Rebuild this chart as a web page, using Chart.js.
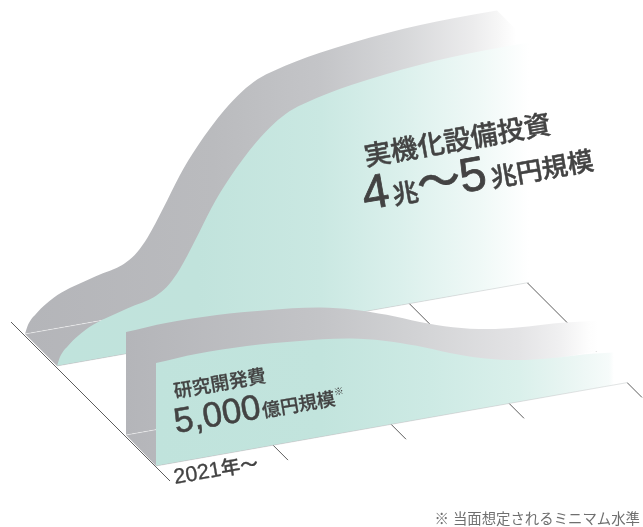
<!DOCTYPE html>
<html lang="ja">
<head>
<meta charset="UTF-8">
<title>実機化設備投資と研究開発費</title>
<script src="https://cdn.jsdelivr.net/npm/chart.js"></script>
<style>
    body { margin: 0; background: #fff; }
    canvas { display: block; }
</style>
</head>
<body>
<canvas id="investChart" width="643" height="527"></canvas>
<script>
// years after 2021 and relative height of each ribbon (not to scale)
const capexYears = [0, 0.025, 0.1, 0.24, 0.38, 0.53, 0.66, 0.78, 0.86, 0.95, 1.04, 1.17, 1.31, 1.46, 1.69, 1.84, 1.97, 2.12, 2.29, 2.5, 2.78, 3.07, 3.35, 3.63, 4];
const capexValues = [0, 8.5, 19, 31, 38, 43, 47, 50, 54, 62, 75, 101, 131, 157, 188.6, 204, 213.6, 219.5, 224.5, 229, 233.5, 237, 239, 240, 240];
const rdYears = [0, 0.35, 0.77, 1.19, 1.65, 1.93, 2.21, 2.49, 2.77, 3.06, 3.34, 3.62, 3.91, 4];
const rdValues = [103, 105, 104, 100, 93, 85, 74, 61, 50, 42, 38, 36, 32, 31];
const gridYears = [0, 1, 2, 3, 4];
const startLabel = ['2021', '年', '〜'];

const PX_PER_YEAR = 118;
const SHEAR = 0.177;  // the time axis climbs to the right
const INK = '#434343';
const LATIN_CJK = '"Liberation Sans", "Noto Sans CJK JP", sans-serif';

const GREY_BACK = [[0, '#b4b5b9'], [0.4, '#babbbe'], [0.63, '#c4c5c8'], [0.8, '#d6d7d9'], [0.95, '#ececed'], [1, '#f6f6f6']];
const GREEN_BACK = [[0, '#c0e3dc'], [0.3, '#c1e3dc'], [0.56, '#cae8e2'], [0.73, '#dbf0ec'], [0.9, '#f0f9f7'], [1, '#fff']];
const GREY_FRONT = [[0, '#b4b5b9'], [0.41, '#c3c4c7'], [0.62, '#d2d3d5'], [0.83, '#e3e3e5'], [0.92, '#f0f0f1'], [0.98, '#fdfdfd'], [1, '#fff']];
const GREEN_FRONT = [[0, '#c0e3dc'], [0.35, '#c2e4dd'], [0.58, '#cdeae4'], [0.77, '#daf0eb'], [0.856, '#e6f4f1'], [0.96, '#f6fbfa'], [0.97, '#fff'], [1, '#fff']];

function xPixel(chart, year) {
    return chart.scales.x.getPixelForValue(year);
}

function stripGradient(chart, stops) {
    const g = chart.ctx.createLinearGradient(0, 0, PX_PER_YEAR * 4, 0);
    stops.forEach(s => g.addColorStop(s[0], s[1]));
    return g;
}

function wallDataset(years, values, origin, stops, floorFrom) {
    return {
        data: years.map((year, i) => ({ x: year, y: values[i] })),
        origin: origin,
        floorFrom: floorFrom,
        stops: stops,
        fill: 'origin',
        clip: false,
        borderWidth: 0,
        pointRadius: 0,
        cubicInterpolationMode: 'monotone',
        backgroundColor: ctx => stripGradient(ctx.chart, stops)
    };
}

// floor strip between a grey wall's foot and the green wall in front of it
function drawFloor(chart, from, to, stops) {
    const ctx = chart.ctx;
    const len = xPixel(chart, 4);
    ctx.save();
    ctx.translate(from.x, 0);
    ctx.fillStyle = stripGradient(chart, stops);
    ctx.beginPath();
    ctx.moveTo(0, from.y);
    ctx.lineTo(len, from.y - SHEAR * len);
    ctx.lineTo(len + to.x - from.x, to.y - SHEAR * len);
    ctx.lineTo(to.x - from.x, to.y);
    ctx.closePath();
    ctx.fill();
    ctx.strokeStyle = 'rgba(255,255,255,0.45)';
    ctx.lineWidth = 0.8;
    ctx.beginPath();
    ctx.moveTo(0, from.y);
    ctx.lineTo(len, from.y - SHEAR * len);
    ctx.stroke();
    ctx.restore();
}

// the ribbon's far end: a small slanted cap from the grey top edge down to the green top edge
function drawCap(chart, from, to, stops, lastValue) {
    const ctx = chart.ctx;
    const len = xPixel(chart, 4);
    const rise = chart.scales.y.getPixelForValue(0) - chart.scales.y.getPixelForValue(lastValue);
    const x0 = from.x + len;
    const y0 = from.y - SHEAR * len - rise;
    const dx = to.x - from.x;
    const dy = to.y - from.y;
    const g = ctx.createLinearGradient(x0, 0, x0 + dx * 0.6, 0);
    g.addColorStop(0, stops[stops.length - 1][1]);
    g.addColorStop(1, '#fff');
    ctx.save();
    ctx.fillStyle = g;
    ctx.beginPath();
    ctx.moveTo(x0, y0);
    ctx.lineTo(x0 + dx, y0 + dy);
    ctx.lineTo(x0, y0 + dy + 20);
    ctx.closePath();
    ctx.fill();
    ctx.restore();
}

// shears each wall onto the rising time axis; registered ahead of Filler so the fill is sheared too
const wallShear = {
    id: 'wallShear',
    beforeDatasetDraw(chart, args) {
        const ds = chart.data.datasets[args.index];
        if (ds.floorFrom) {
            const grey = ds.stops === GREEN_BACK ? GREY_BACK : GREY_FRONT;
            drawFloor(chart, ds.floorFrom, ds.origin, grey);
            drawCap(chart, ds.floorFrom, ds.origin, grey, ds.data[ds.data.length - 1].y);
        }
        const ctx = chart.ctx;
        ctx.save();
        ctx.transform(1, -SHEAR, 0, 1, ds.origin.x, ds.origin.y - chart.scales.y.getPixelForValue(0));
    },
    afterDatasetDraw(chart, args) {
        const ds = chart.data.datasets[args.index];
        const ctx = chart.ctx;
        if (ds.floorFrom) {
            const y0 = chart.scales.y.getPixelForValue(0);
            ctx.strokeStyle = 'rgba(190,196,196,0.55)';
            ctx.lineWidth = 0.8;
            ctx.beginPath();
            ctx.moveTo(xPixel(chart, 0), y0);
            ctx.lineTo(xPixel(chart, 4), y0);
            ctx.stroke();
        }
        ctx.restore();
    }
};

// depth lines run down-right from the back of the floor, one per year
const depthGrid = {
    id: 'depthGrid',
    beforeDatasetsDraw(chart) {
        const ctx = chart.ctx;
        ctx.save();
        ctx.strokeStyle = '#5d5d5d';
        ctx.lineWidth = 1;
        gridYears.forEach(year => {
            const run = xPixel(chart, year);
            const x = 11 + run;
            const y = 322 - SHEAR * run;
            ctx.beginPath();
            ctx.moveTo(x, y);
            ctx.lineTo(x + 159, y + 159);
            ctx.stroke();
        });
        ctx.restore();
    }
};

// one rotated line made of runs with different sizes; the thin stroke thickens the regular faces
function drawRuns(ctx, x, y, runs) {
    ctx.save();
    ctx.translate(x, y);
    ctx.rotate(Math.atan(-SHEAR));
    ctx.fillStyle = INK;
    ctx.strokeStyle = INK;
    ctx.lineJoin = 'round';
    ctx.textBaseline = 'alphabetic';
    let pen = 0;
    runs.forEach(r => {
        ctx.font = (r.weight || 500) + ' ' + r.size + 'px ' + LATIN_CJK;
        ctx.lineWidth = r.stroke === undefined ? 0.45 : r.stroke;
        ctx.fillText(r.text, pen, r.rise || 0);
        if (r.stroke !== 0) ctx.strokeText(r.text, pen, r.rise || 0);
        pen += ctx.measureText(r.text).width + (r.gap || 0);
    });
    ctx.restore();
}

const chartLabels = {
    id: 'chartLabels',
    afterDatasetsDraw(chart) {
        const ctx = chart.ctx;
        drawRuns(ctx, 366, 166, [{ text: '実機化設備投資', size: 27 }]);
        drawRuns(ctx, 365, 210, [
            { text: '4', size: 48, stroke: 0.8, gap: 3 },
            { text: '兆', size: 26, gap: 0 },
            { text: '〜', size: 44, gap: -1 },
            { text: '5', size: 48, stroke: 0.8, gap: 4 },
            { text: '兆円規模', size: 26 }
        ]);
        drawRuns(ctx, 175, 398, [{ text: '研究開発費', size: 18.7, stroke: 0.3 }]);
        drawRuns(ctx, 176, 433, [
            { text: '5,000', size: 35, stroke: 0.5, gap: 1 },
            { text: '億円規模', size: 18.5, stroke: 0.3 },
            { text: '※', size: 10, weight: 400, stroke: 0, rise: -9 }
        ]);
        drawRuns(ctx, 175, 484, [
            { text: startLabel[0], size: 21.5, stroke: 0.35 },
            { text: startLabel[1], size: 19.5, stroke: 0.3 },
            { text: startLabel[2], size: 18, stroke: 0.3 }
        ]);

        ctx.save();
        ctx.font = '400 14.4px ' + LATIN_CJK;
        ctx.fillStyle = '#6f6f6f';
        ctx.textAlign = 'right';
        ctx.fillText('※ 当面想定されるミニマム水準', 640, 524);
        ctx.restore();
    }
};

Chart.unregister(Chart.Filler);
Chart.register(wallShear, Chart.Filler);

const capexBack = { x: 25, y: 334 };
const capexFront = { x: 57, y: 366 };
const rdBack = { x: 126, y: 435 };
const rdFront = { x: 156, y: 466 };

const walls = [
    wallDataset(capexYears, capexValues, capexBack, GREY_BACK),
    wallDataset(capexYears, capexValues, capexFront, GREEN_BACK, capexBack),
    wallDataset(rdYears, rdValues, rdBack, GREY_FRONT),
    wallDataset(rdYears, rdValues, rdFront, GREEN_FRONT, rdBack)
];
walls.forEach((w, i) => { w.order = walls.length - i; });

new Chart(document.getElementById('investChart'), {
    type: 'line',
    data: { datasets: walls },
    options: {
        responsive: false,
        animation: false,
        layout: { padding: 0 },
        plugins: { legend: { display: false }, tooltip: { enabled: false } },
        scales: {
            x: { type: 'linear', display: false, min: 0, max: 643 / PX_PER_YEAR },
            y: { type: 'linear', display: false, min: 0, max: 527 }
        }
    },
    plugins: [depthGrid, chartLabels]
});
</script>
</body>
</html>
